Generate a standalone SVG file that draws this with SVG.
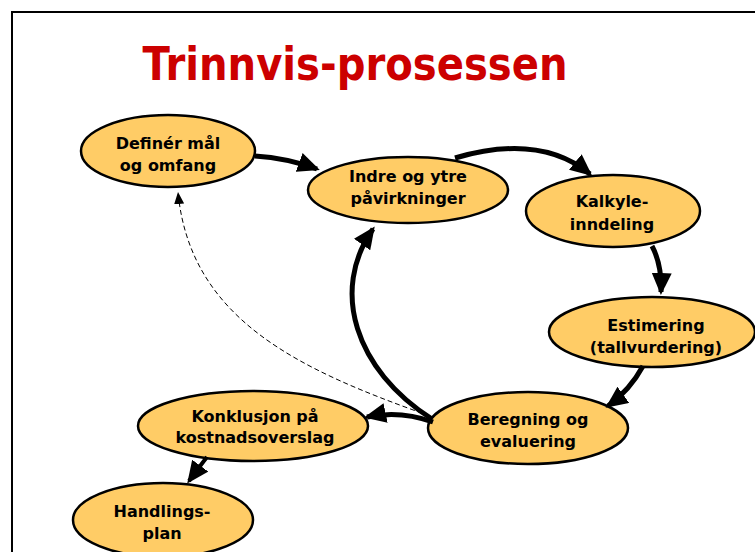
<svg xmlns="http://www.w3.org/2000/svg" width="755" height="552" viewBox="0 0 755 552">
<style>
.node ellipse{fill:#FFCC66;stroke:#000;stroke-width:2.5}
.node text{font-family:"DejaVu Sans","Liberation Sans",sans-serif;font-weight:bold;font-size:16px;fill:#000;text-anchor:middle}
.thick{fill:none;stroke:#000;stroke-width:5;marker-end:url(#big)}
.dash{fill:none;stroke:#000;stroke-width:1;stroke-dasharray:5 3;marker-end:url(#small)}
</style>
<defs>
<marker id="big" markerUnits="userSpaceOnUse" markerWidth="22" markerHeight="20" refX="19" refY="10" orient="auto">
<path d="M0,0 L22,10 L0,20 z" fill="#000"/>
</marker>
<marker id="small" markerUnits="userSpaceOnUse" markerWidth="12" markerHeight="10" refX="12" refY="5" orient="auto">
<path d="M0,0 L12,5 L0,10 z" fill="#000"/>
</marker>
</defs>
<rect width="755" height="552" fill="#fff"/>
<path d="M12,552 L12,12 L755,12" fill="none" stroke="#000" stroke-width="2"/>
<text x="355" y="80" font-family="DejaVu Sans,Liberation Sans,sans-serif" font-weight="bold" font-size="46" fill="#CC0000" text-anchor="middle" textLength="425" lengthAdjust="spacingAndGlyphs">Trinnvis-prosessen</text>
<g id="n1" class="node"><ellipse cx="168" cy="151" rx="87" ry="36"/><text x="168" y="149">Definér mål</text><text x="168" y="171">og omfang</text></g>
<g id="n2" class="node"><ellipse cx="408" cy="190" rx="100" ry="33"/><text x="408" y="182">Indre og ytre</text><text x="408" y="204">påvirkninger</text></g>
<g id="n3" class="node"><ellipse cx="613" cy="211" rx="87" ry="36"/><text x="612" y="207">Kalkyle-</text><text x="612" y="230">inndeling</text></g>
<g id="n4" class="node"><ellipse cx="652" cy="332" rx="103" ry="35"/><text x="656" y="331">Estimering</text><text x="656" y="353">(tallvurdering)</text></g>
<g id="n5" class="node"><ellipse cx="528" cy="428" rx="100" ry="36"/><text x="528" y="425">Beregning og</text><text x="528" y="447">evaluering</text></g>
<g id="n6" class="node"><ellipse cx="253" cy="426" rx="115" ry="35"/><text x="255" y="422">Konklusjon på</text><text x="255" y="443">kostnadsoverslag</text></g>
<g id="n7" class="node"><ellipse cx="163" cy="520" rx="90" ry="37"/><text x="162" y="517">Handlings-</text><text x="162" y="539">plan</text></g>
<g id="connectors">
<path class="thick" d="M255,156 Q287,158 317,169"/>
<path class="thick" d="M455,158 Q540,133 590,174"/>
<path class="thick" d="M652,246 Q662,265 661,292"/>
<path class="thick" d="M643,366 Q630,390 608,406"/>
<path class="thick" d="M432,419 C355,370 330,290 373,229"/>
<path class="thick" d="M433,422 Q400,410 367,417"/>
<path class="dash" d="M430,416 C300,370 190,320 178,192"/>
<path class="thick" d="M207,457 Q200,466 189,481" style="stroke-width:4"/>
</g>
</svg>
